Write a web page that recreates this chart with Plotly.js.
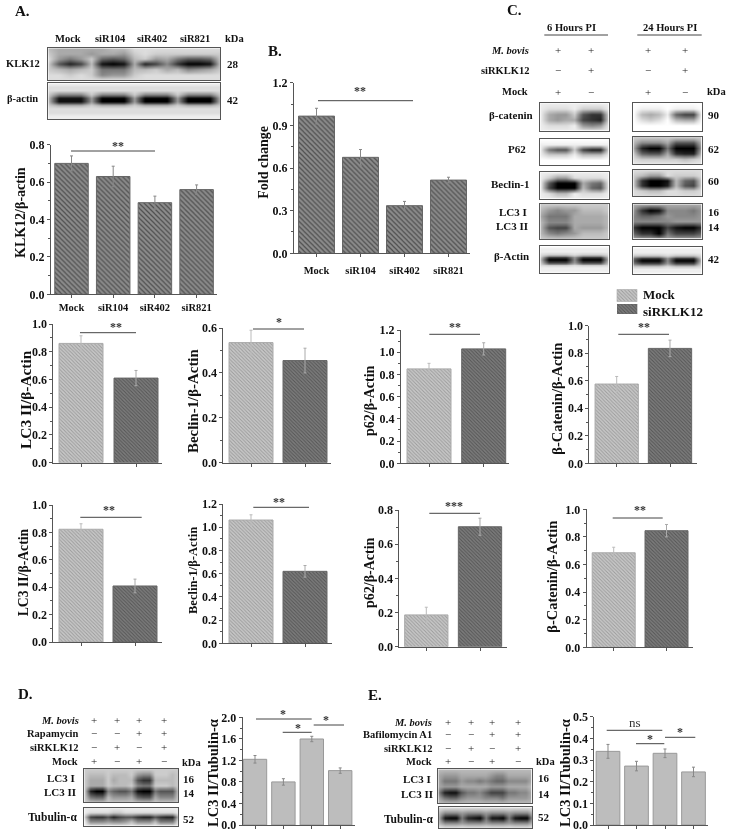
<!DOCTYPE html>
<html><head><meta charset="utf-8">
<script src="https://cdn.plot.ly/plotly-3.0.1.min.js"></script>
<style>html,body{margin:0;padding:0;background:#fff}#c{width:729px;height:834px;filter:blur(0.35px)}</style>
</head><body><div id="c"></div>
<script>
// ---------- categories ----------
const catsSirna = ['Mock','siR104','siR402','siR821'];
const catsTwo = ['Mock','siRKLK12'];
const catsFour = ['Mock','siRKLK12','Drug','Drug+siRKLK12'];
// ---------- values ----------
const klk12Vals = [0.70,0.63,0.49,0.56];      const klk12Errs = [0.04,0.055,0.035,0.025];
const foldVals  = [0.965,0.675,0.335,0.515];  const foldErrs  = [0.055,0.055,0.03,0.02];
const lc3a6Vals = [0.86,0.61];   const lc3a6Errs = [0.055,0.055];
const bec6Vals  = [0.535,0.455]; const bec6Errs  = [0.055,0.055];
const p626Vals  = [0.85,1.03];   const p626Errs  = [0.05,0.055];
const cat6Vals  = [0.576,0.835]; const cat6Errs  = [0.055,0.06];
const lc3a24Vals= [0.823,0.409]; const lc3a24Errs= [0.04,0.05];
const bec24Vals = [1.062,0.62];  const bec24Errs = [0.045,0.05];
const p6224Vals = [0.186,0.702]; const p6224Errs = [0.045,0.05];
const cat24Vals = [0.685,0.845]; const cat24Errs = [0.04,0.045];
const rapaVals  = [1.22,0.80,1.597,1.01];     const rapaErrs = [0.07,0.06,0.05,0.05];
const bafVals   = [0.34,0.272,0.331,0.245];   const bafErrs  = [0.032,0.022,0.02,0.022];
const legendNames = ['Mock','siRKLK12'];
const legendFill = [1];
// ---------- blot densitometry (hex grey: 0 black ... f white) ----------
const blotKLK12 = ['b aaa a abb d ddd d ddd d','c aaa 9 aa9 c dcc c ccc c','d 979 c 656 b c9a 7 556 c','c 524 b 101 a 248 3 001 c','c bab c 777 b bca b 89a c','d dcd c 899 c ddd d ddd d','d ddd d ddd d ddd d ddd d'];
const blotActinA = ['e eee e eee e eee e eee e','d ddd d ddd d ddd d ddd d','d ddd d ddd d ddd d ddd d','c 888 c 888 c 888 c 888 c','b 111 9 000 9 000 9 000 b','b 111 9 000 9 000 9 000 b','c aaa c aaa c aaa c aaa c','d ddd d ddd d ddd d ddd d','d ddd d ddd d ddd d ddd d','e eee e eee e eee e eee e','e eee e eee e eee e eee e'];
const blotCatL = ['e eee e eee e','e ddd e ccc e','e a99 c 533 d','e a9a a 432 d','e ddd e 989 e','e eee e eee e'];
const blotCatR = ['f fff f fff f','f eee f eee f','f bab e 644 f','f dcd f baa f','f fff f fff f','f fff f fff f'];
const blotP62L = ['f fff f fff f','e eee e eee e','e 755 c 422 d','e ccc e bbb e','f fff f fff f','f fff f fff f'];
const blotP62R = ['c ccc c ccc c','b 888 a 555 b','a 200 7 000 a','c 655 a 322 c','d ccc c cbc d','e eee e eee e'];
const blotBecL = ['e eee e eee e','e c99 d ddd e','e 500 0 a76 e','e 400 0 b65 e','e dbb e ddd e','e eee e eee e'];
const blotBecR = ['d ddd d ddd d','c b99 d ccc d','c 300 1 b65 d','c 300 2 b54 d','d cbb d dcc d','d ddd d ddd d'];
const blotLc3L = ['c ccc c ccc c','b 989 9 bbb c','a 777 a aaa b','b 888 a aaa b','b 544 a 999 b','b 878 9 bbb c','c ccc c ccc c'];
const blotLc3R = ['a aaa a aaa a','9 301 8 887 9','8 667 9 888 9','8 888 8 999 9','3 000 4 100 3','6 330 7 444 6','a aaa a aaa a'];
const blotActL = ['f fff f fff f','e eee e eee e','e eee e eee e','d ccc d ccc d','c 444 9 444 c','b 000 8 000 b','c 444 9 444 c','d ccc d ccc d','e eee e eee e','e eee e eee e','f fff f fff f'];
const blotActR = ['f fff f fff f','e eee e eee e','e eee e eee e','c ccc d ccc d','7 444 9 444 d','5 000 8 000 c','7 444 9 444 d','c ccc d ccc d','e eee e eee e','e eee e eee e','f fff f fff f'];
const blotRapaLc3 = ['c ccc c ccc c ccc c ccc c','c bbb c bbb c 988 c ccb c','c aaa c abb b 533 b bbb c','c aaa c bbb c 877 c ccb c','c 200 8 655 7 100 7 555 c','c 766 b 999 a 655 a 888 c','c ccc c ccc c ccc c ccc c'];
const blotRapaTub = ['e eee e eee e eee e eee e','e ddd d ccd d ddd d ddd e','c 433 5 245 5 322 5 322 c','e 888 9 889 b 888 b 777 e','e eee e eee e eee e eee e'];
const blotBafLc3 = ['b bbb b bbb b bbb b bbb b','a 999 a aaa a 988 a aaa a','a 777 9 887 8 766 8 888 a','a 999 a aaa a 999 a aaa b','8 211 5 778 6 444 7 788 a','a 766 8 999 8 887 9 999 a','b bbb b bbb b bbb b bbb b'];
const blotBafTub = ['d ddd d ddd d ddd d ddd d','b 888 9 888 9 888 9 888 b','a 100 7 210 7 110 7 100 a','b 888 9 888 9 888 9 888 b','e eee e eee e eee e eee e'];

// ---------- layout tables ----------
const W=729,H=834,FONT='Liberation Serif',AX='#555';
const px=x=>x/W, py=y=>1-y/H;
const styles={
 a:{color:'#808080',bg:'#8c8c8c',fg:'#505050',size:3.5,sol:0.35,line:'#666',err:'#888'},
 l:{color:'#bdbdbd',bg:'#c8c8c8',fg:'#9c9c9c',size:2.5,sol:0.4,line:'#aaa',err:'#bbb'},
 d:{color:'#707070',bg:'#7c7c7c',fg:'#555',size:2.5,sol:0.4,line:'#666',err:'#aaa'},
 s:{color:'#bdbdbd',line:'#999',err:'#888'}
};
const barPanels=[
 {c:catsSirna,v:klk12Vals,e:klk12Errs,max:.8,dt:.2,m:.1,t:'KLK12/β-actin',tx:21,ty:213,fs:14,box:[51,217,144.7,294.3],c0:71.5,sp:41.7,bw:33.5,st:['a'],labels:1,tick:10.5,
  sig:[[71,155,151,'**',118,146]]},
 {c:catsSirna,v:foldVals,e:foldErrs,max:1.2,dt:.3,m:.15,t:'Fold change',tx:262.7,ty:162,fs:14,box:[294,470,82.7,253.3],c0:316.5,sp:44,bw:36,st:['a'],labels:1,tick:10.5,lso:4,
  sig:[[318,413,100.7,'**',360,91]]},
 {c:catsTwo,v:lc3a6Vals,e:lc3a6Errs,max:1,dt:.2,m:.1,t:'LC3 II/β-Actin',tx:25,ty:400,fs:15.4,box:[53.3,161.7,324,462.7],c0:81,sp:55,bw:44,st:['l','d'],
  sig:[[80,136,332.7,'**',116,327]]},
 {c:catsTwo,v:bec6Vals,e:bec6Errs,max:.6,dt:.2,m:.1,t:'Beclin-1/β-Actin',tx:193,ty:400,fs:14.9,box:[223.3,331,328,462.7],c0:251,sp:54,bw:44,st:['l','d'],
  sig:[[253,304,329,'*',279,322]]},
 {c:catsTwo,v:p626Vals,e:p626Errs,max:1.2,dt:.2,m:.1,t:'p62/β-Actin',tx:369,ty:401,fs:14,box:[401,509,330,463.3],c0:429,sp:54.7,bw:44,st:['l','d'],
  sig:[[429.3,480,334.3,'**',455,327]]},
 {c:catsTwo,v:cat6Vals,e:cat6Errs,max:1,dt:.2,m:.1,t:'β-Catenin/β-Actin',tx:556.7,ty:399,fs:14.5,box:[589.3,696.7,325.7,463.3],c0:616.7,sp:53.3,bw:43.3,st:['l','d'],
  sig:[[618.3,669,334.3,'**',644,327]]},
 {c:catsTwo,v:lc3a24Vals,e:lc3a24Errs,max:1,dt:.2,m:.1,t:'LC3 II/β-Actin',tx:23.3,ty:572,fs:13.7,box:[53.3,162,505,642],c0:81,sp:54,bw:44,st:['l','d'],
  sig:[[80.3,141.7,517.3,'**',109,510]]},
 {c:catsTwo,v:bec24Vals,e:bec24Errs,max:1.2,dt:.2,m:.1,t:'Beclin-1/β-Actin',tx:193,ty:570,fs:12.5,box:[223.3,332,504,643.3],c0:251,sp:54,bw:44,st:['l','d'],
  sig:[[253.3,309,507.3,'**',279,502]]},
 {c:catsTwo,v:p6224Vals,e:p6224Errs,max:.8,dt:.2,m:.1,t:'p62/β-Actin',tx:369,ty:573,fs:14,box:[399.3,506.7,510,646.7],c0:426.3,sp:53.7,bw:43.3,st:['l','d'],
  sig:[[429.3,480,513.3,'***',454,506]]},
 {c:catsTwo,v:cat24Vals,e:cat24Errs,max:1,dt:.2,m:.1,t:'β-Catenin/β-Actin',tx:551.7,ty:577,fs:14.5,box:[586.7,693.3,509.3,647.3],c0:613.7,sp:52.8,bw:43,st:['l','d'],
  sig:[[612.7,662.7,518,'**',640,510]]},
 {c:catsFour,v:rapaVals,e:rapaErrs,max:2,dt:.4,m:.2,t:'LC3 II/Tubulin-α',tx:213,ty:773,fs:14.5,box:[242.7,355,717.3,825],c0:255,sp:28.4,bw:23.4,st:['s'],
  sig:[[256,311.7,719,'*',283,714],[282.7,311.7,732.3,'*',298,728],[313.7,344,725,'*',326,720]]},
 {c:catsFour,v:bafVals,e:bafErrs,max:.5,dt:.1,m:.05,t:'LC3 II/Tubulin-α',tx:565,ty:773,fs:14.5,box:[594.3,707.7,716.7,825],c0:608,sp:28.5,bw:23.7,st:['s'],
  sig:[[606.7,662.3,730.3,'ns',635,722],[636,664.3,743.7,'*',650,739],[665,695.3,737.3,'*',680,732]]}
];
const blots=[
 [blotKLK12,48.3,220.3,48.3,80],[blotActinA,48.3,220.3,83.3,119.3],
 [blotCatL,540.3,608.7,103.3,130.7],[blotCatR,633.3,701.7,103.3,130.7],
 [blotP62L,540.3,608.7,139,165.3],[blotP62R,633.3,701.7,137,164.3],
 [blotBecL,540.3,608.7,172.3,198.7],[blotBecR,633.3,701.7,170,196],
 [blotLc3L,540.3,608.7,204,239.3],[blotLc3R,633.3,701.7,204.3,238.7],
 [blotActL,540.3,608.7,246,273.3],[blotActR,633.3,701.7,246.7,274.3],
 [blotRapaLc3,84.3,178.3,769,802.3],[blotRapaTub,84.3,178.3,807.7,825.7],
 [blotBafLc3,438.3,531.7,769.3,803.3],[blotBafTub,438.7,532.3,807.3,828.3]
];
const swatches=[[legendNames[0],616.7,637.3,289.3,301.7,'l',641,294],[legendNames[1],617,637.3,304,314,'d',641,311]];
// text: [string, x, y, size, anchor, italic?]
const labels=[
 ['A.',22,11,15,'center'],['B.',275,51,15,'center'],['C.',514,10,15,'center'],['D.',25,694,15,'center'],['E.',375,695,15,'center'],
 ['Mock',68.3,38,10.5,'center'],['siR104',110.7,38,10.5,'center'],['siR402',151.7,38,10.5,'center'],['siR821',195.3,38,10.5,'center'],['kDa',234,38,10.5,'center'],
 ['KLK12',23,64,10.5,'center'],['β-actin',23,98,10.5,'center'],['28',233,64,11,'center'],['42',233,100,11,'center'],
 ['6 Hours PI',571.7,27,10.5,'center'],['24 Hours PI',670,27,10.5,'center'],
 ['M. bovis',531,51,10.5,'right',1],['siRKLK12',531,70,10.5,'right'],['Mock',530,92,10.5,'right'],['kDa',716,92,10.5,'center'],
 ['β-catenin',510.7,115,11,'center'],['P62',517,149,11,'center'],['Beclin-1',510,184,11,'center'],['LC3 I',513,212,11,'center'],['LC3 II',512,226,11,'center'],['β-Actin',511,256,11,'center'],
 ['90',714,115,11,'center'],['62',714,149,11,'center'],['60',714,181,11,'center'],['16',714,212,11,'center'],['14',714,227,11,'center'],['42',714,259,11,'center'],
 ['M. bovis',81,720,10.5,'right',1],['Rapamycin',80,733,10.5,'right'],['siRKLK12',80,747,10.5,'right'],['Mock',80,761,10.5,'right'],['kDa',191,762,10.5,'center'],
 ['LC3 I',61,778,11,'center'],['LC3 II',60,792,11,'center'],['Tubulin-α',52,817,11.5,'center'],['16',189,779,11,'center'],['14',189,793,11,'center'],['52',189,819,11,'center'],
 ['M. bovis',434,722,10.5,'right',1],['Bafilomycin A1',434,734,10.5,'right'],['siRKLK12',434,748,10.5,'right'],['Mock',434,761,10.5,'right'],['kDa',545,761,10.5,'center'],
 ['LC3 I',417,779,11,'center'],['LC3 II',417,794,11,'center'],['Tubulin-α',408,819,11.5,'center'],['16',544,778,11,'center'],['14',544,794,11,'center'],['52',544,817,11,'center']
];
const signRows=[
 [[558,591,648,685],50,'++++'],[[558,591,648,685],70,'-+-+'],[[558,591,648,685],92,'+-+-'],
 [[94.3,117.3,139,164],720,'++++'],[[94.3,117.3,139,164],733,'--++'],[[94.3,117.3,139,164],747,'-+-+'],[[94.3,117.3,139,164],761,'+-+-'],
 [[448,471,492,517.7],722,'++++'],[[448,471,492,517.7],734,'--++'],[[448,471,492,517.7],748,'-+-+'],[[448,471,492,517.7],761,'+-+-']
];
const rules=[[544.3,608,35],[637.3,701.7,35]];

// ---------- build ----------
const data=[],annotations=[],shapes=[];
const layout={width:W,height:H,margin:{l:0,r:0,t:0,b:0},paper_bgcolor:'#fff',plot_bgcolor:'rgba(0,0,0,0)',showlegend:false,
 barmode:'overlay',bargap:0,font:{family:FONT,color:'#111'},annotations,shapes};
let idx=0;
const ids=()=>{idx++;const s=idx===1?'':idx;return {xa:'x'+s,ya:'y'+s,xk:'xaxis'+s,yk:'yaxis'+s};};
const txt=(s,x,y,size,anchor,it)=>annotations.push({text:it?'<i>'+s+'</i>':s,x:px(x),y:py(y),xref:'paper',yref:'paper',xanchor:anchor,yanchor:'middle',showarrow:false,
  font:{family:FONT,size,weight:700,color:'#111'}});
const hline=(a,b,y,c)=>shapes.push({type:'line',xref:'paper',yref:'paper',x0:px(a),x1:px(b),y0:py(y),y1:py(y),line:{color:c||'#444',width:1}});
const fillOf=st=>{const m={color:st.color,line:{color:st.line,width:1}};
 if(st.bg)m.pattern={shape:'\\',bgcolor:st.bg,fgcolor:st.fg,size:st.size,solidity:st.sol};return m;};

barPanels.forEach(p=>{
 const k=ids(),[L,R,T,B]=p.box;
 p.c.forEach((cat,i)=>{
  const single=p.st.length===1;
  if(single&&i>0)return;
  const st=styles[single?p.st[0]:p.st[i]];
  data.push({type:'bar',x:single?p.c:[cat],y:single?p.v:[p.v[i]],width:p.bw/p.sp,xaxis:k.xa,yaxis:k.ya,marker:fillOf(st),
   name:cat,showlegend:false,
   error_y:{type:'data',array:single?p.e:[p.e[i]],visible:true,color:st.err,thickness:1,width:1.5}});
 });
 layout[k.xk]={domain:[px(L),px(R)],anchor:k.ya,type:'category',categoryorder:'array',categoryarray:p.c,range:[(L-p.c0)/p.sp,(R-p.c0)/p.sp],
  showline:true,linecolor:AX,linewidth:1,ticks:'outside',ticklen:3,tickcolor:AX,showgrid:false,zeroline:false,showticklabels:!!p.labels,
  tickangle:0,ticklabelstandoff:p.lso||0,tickfont:{family:FONT,size:p.tick||11,weight:700,color:'#111'}};
 layout[k.yk]={domain:[py(B),py(T)],anchor:k.xa,range:[0,p.max],dtick:p.dt,tick0:0,tickformat:'.1f',showline:true,linecolor:AX,linewidth:1,ticks:'outside',ticklen:3,tickcolor:AX,
  minor:{dtick:p.m,ticks:'outside',ticklen:2,tickcolor:AX},showgrid:false,zeroline:false,
  tickfont:{family:FONT,size:12,weight:700,color:'#111'}};
 annotations.push({text:p.t,x:px(p.tx),y:py(p.ty),xref:'paper',yref:'paper',xanchor:'center',yanchor:'middle',textangle:-90,showarrow:false,
  font:{family:FONT,size:p.fs,weight:700,color:'#111'}});
 p.sig.forEach(([a,b,y,s,tx,ty])=>{hline(a,b,y);
  annotations.push({text:s,x:px(tx),y:py(ty),xref:'paper',yref:'paper',xanchor:'center',yanchor:'middle',showarrow:false,
   font:{family:FONT,size:s==='ns'?13:12,weight:s==='ns'?400:700,color:'#333'}});});
});
const parse=rows=>rows.map(r=>r.replace(/\s/g,'').split('').map(ch=>parseInt(ch,16)));
blots.forEach(([rows,L,R,T,B])=>{
 const k=ids(),z=parse(rows);
 data.push({type:'heatmap',z,zmin:0,zmax:15,zsmooth:'best',showscale:false,hoverinfo:'skip',showlegend:false,xaxis:k.xa,yaxis:k.ya,
  colorscale:[[0,'#000'],[1,'#fff']]});
 const base={showgrid:false,zeroline:false,showticklabels:false,ticks:'',showline:true,mirror:true,linecolor:AX,linewidth:1};
 layout[k.xk]=Object.assign({domain:[px(L),px(R)],anchor:k.ya,range:[0,z[0].length-1]},base);
 layout[k.yk]=Object.assign({domain:[py(B),py(T)],anchor:k.xa,range:[z.length-1,0]},base);
});
swatches.forEach(([name,L,R,T,B,s,tx,ty])=>{
 const k=ids();
 data.push({type:'bar',x:[name],y:legendFill,width:1,xaxis:k.xa,yaxis:k.ya,marker:fillOf(styles[s]),name,showlegend:false,hoverinfo:'skip'});
 const base={visible:false,showgrid:false,zeroline:false};
 layout[k.xk]=Object.assign({domain:[px(L),px(R)],anchor:k.ya,type:'category',range:[-.5,.5]},base);
 layout[k.yk]=Object.assign({domain:[py(B),py(T)],anchor:k.xa,range:[0,1]},base);
 txt(name,tx,ty,13,'left');
});
labels.forEach(l=>txt(...l));
signRows.forEach(([xs,y,s])=>xs.forEach((x,i)=>annotations.push({text:s[i]==='+'?'+':'−',x:px(x),y:py(y),xref:'paper',yref:'paper',xanchor:'center',yanchor:'middle',showarrow:false,font:{family:FONT,size:11,color:'#222'}})));
rules.forEach(([a,b,y])=>hline(a,b,y));
Plotly.newPlot('c',data,layout,{displayModeBar:false,staticPlot:true});
</script></body></html>
